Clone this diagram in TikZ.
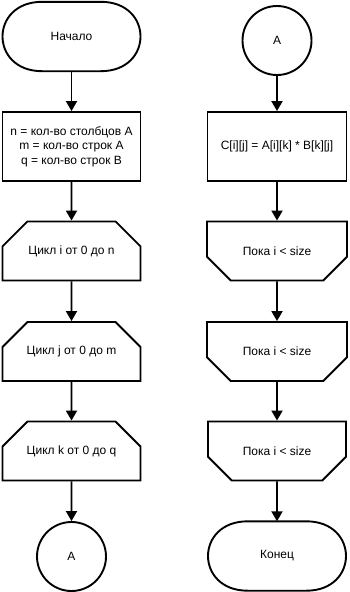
\documentclass[tikz,border=0pt]{standalone}
\usepackage{fontspec}
\setmainfont{Liberation Sans}
\usetikzlibrary{
    arrows.meta,
    shapes.misc,
    calc
}

\tikzset{
    txt/.style={font=\fontsize{12}{14.5}\selectfont, align=center},
    block/.style={txt, draw, line width=1.9pt, rectangle, minimum width=138pt, minimum height=69pt},
    loopstart/.style={block, chamfered rectangle, chamfered rectangle corners={north west, north east},
        chamfered rectangle xsep=21pt, chamfered rectangle ysep=16pt, minimum height=59pt},
    loopend/.style={block, chamfered rectangle, chamfered rectangle corners={south west, south east},
        chamfered rectangle xsep=21pt, chamfered rectangle ysep=16pt, minimum height=59pt},
    terminal/.style={txt, rectangle, minimum width=139pt, minimum height=69pt},
    connector/.style={txt, draw, circle, line width=1.9pt, minimum size=69pt},
    arrow/.style={line width=1.9pt, -{Triangle[length=10pt, width=11pt]}}
}

\begin{document}
\begin{tikzpicture}[x=1pt, y=-1pt]
    \useasboundingbox (0,0) rectangle (349,592);

    % left column: three nested loops
    \node[terminal] (start) at (71.5, 36.5) {Начало};
    \node[block] (init) at (71.5, 146.5) {n = кол-во столбцов A\\m = кол-во строк A\\q = кол-во строк B};
    \node[loopstart] (loopi) at (71.5, 251) {Цикл i от 0 до n};
    \node[loopstart] (loopj) at (71.5, 351.5) {Цикл j от 0 до m};
    \node[loopstart] (loopk) at (71.5, 451) {Цикл k от 0 до q};
    \node[connector] (conleft) at (71.5, 556.5) {A};

    % right column: loop body and loop ends
    \node[connector] (conright) at (277, 40.5) {A};
    \node[block, minimum width=139pt] (body) at (277, 146.5) {C[i][j] = A[i][k] * B[k][j]};
    \node[loopend, minimum width=140pt] (endk) at (277, 251) {Пока i < size};
    \node[loopend, minimum width=140pt] (endj) at (277, 351.5) {Пока i < size};
    \node[loopend, minimum width=138pt] (endi) at (277, 451) {Пока i < size};
    \node[terminal] (stop) at (277, 556) {Конец};

    % terminator outlines
    \foreach \t in {start, stop}
        \draw[line width=1.9pt]
            ($(\t.north west)!0.29!(\t.north east)$) -- ($(\t.north west)!0.71!(\t.north east)$)
            .. controls ($(\t.north west)!1.09!(\t.north east)$) and ($(\t.south west)!1.09!(\t.south east)$)
            .. ($(\t.south west)!0.71!(\t.south east)$) -- ($(\t.south west)!0.29!(\t.south east)$)
            .. controls ($(\t.south west)!-0.09!(\t.south east)$) and ($(\t.north west)!-0.09!(\t.north east)$)
            .. cycle;

    \draw[arrow] (start) -- (init);
    \draw[arrow] (init) -- (loopi);
    \draw[arrow] (loopi) -- (loopj);
    \draw[arrow] (loopj) -- (loopk);
    \draw[arrow] (loopk) -- (conleft);

    \draw[arrow] (conright) -- (body);
    \draw[arrow] (body) -- (endk);
    \draw[arrow] (endk) -- (endj);
    \draw[arrow] (endj) -- (endi);
    \draw[arrow] (endi) -- (stop);
\end{tikzpicture}
\end{document}
